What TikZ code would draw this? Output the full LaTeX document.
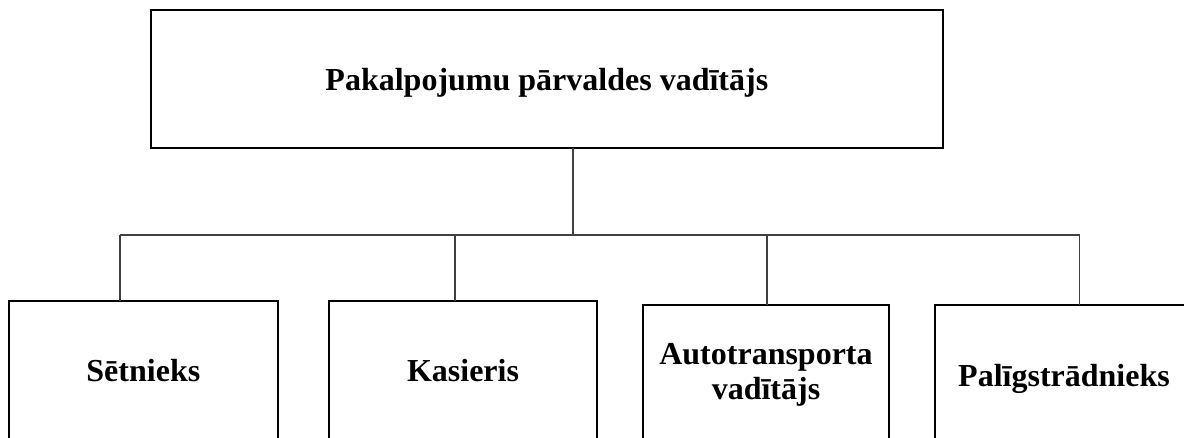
\documentclass[tikz,border=0pt]{standalone}
\usepackage{fontspec}
\setmainfont{Liberation Serif}
\begin{document}
\begin{tikzpicture}[x=1pt,y=-1pt,
  box/.style={draw=black, line width=1.8pt, rectangle, inner sep=0pt, outer sep=0pt,
    font=\fontsize{32}{35}\selectfont\bfseries},
  one/.style={text height=22pt, text depth=0pt},
  conn/.style={draw=black!75, line width=1.2pt}]
\useasboundingbox (0,0) rectangle (1184,437);
\begin{scope}
\clip (0,0) rectangle (1184,437);
\node[box, one, minimum width=792.3pt, minimum height=137.4pt] (top) at (546.85,79) {Pakalpojumu pārvaldes vadītājs};
\node[box, one, minimum width=268.7pt, minimum height=140.3pt] (b1) at (143.35,370.85) {Sētnieks};
\node[box, one, minimum width=268pt, minimum height=140.3pt] (b2) at (463,370.85) {Kasieris};
\node[box, align=center, minimum width=246pt, minimum height=140pt] (b3) at (766,375) {Autotransporta\\vadītājs};
\node[box, one, minimum width=258pt, minimum height=140pt] (b4) at (1064,375) {Palīgstrādnieks};
\coordinate (j) at (573,235);
\coordinate (d1) at (120,235);
\coordinate (d2) at (455,235);
\coordinate (d3) at (767,235);
\coordinate (d4) at (1079.5,235);
\draw[conn] (top.south -| j) -- (j);
\draw[conn] (d1) -- (d4);
\draw[conn] (d1) -- (d1 |- b1.north);
\draw[conn] (d2) -- (d2 |- b2.north);
\draw[conn] (d3) -- (d3 |- b3.north);
\draw[conn] (d4) -- (d4 |- b4.north);
\end{scope}
\end{tikzpicture}
\end{document}
